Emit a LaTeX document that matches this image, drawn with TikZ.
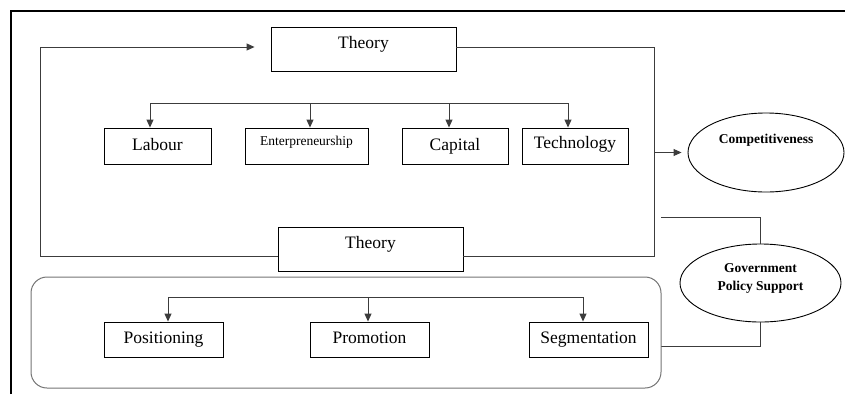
\documentclass[tikz,border=0pt]{standalone}
\usepackage{fontspec}
\setmainfont{Liberation Serif}
\usetikzlibrary{arrows.meta,positioning,shapes.geometric}
\definecolor{linegray}{RGB}{60,60,60}
\definecolor{roundgray}{RGB}{115,115,115}

\begin{document}
\begin{tikzpicture}[x=1pt, y=-1pt,
    box/.style={draw, line width=0.9pt, inner sep=0pt, text height=12pt, text depth=4pt,
      font=\fontsize{17.5}{21}\selectfont},
    smallbox/.style={box, font=\fontsize{13.5}{16}\selectfont, text height=9pt, text depth=11pt},
    theorybox/.style={box, minimum width=185pt, minimum height=44pt, text depth=14pt},
    oval/.style={ellipse, draw, line width=0.9pt, inner sep=0pt, align=center,
      font=\bfseries\fontsize{13.5}{18}\selectfont},
    link/.style={line width=0.9pt, linegray},
    arr/.style={-{Triangle[length=8pt,width=7pt]}}]
  \useasboundingbox (0,0) rectangle (845,394);
  % figure frame
  \draw[line width=2.5pt] (11,394) -- (11,11) -- (845,11);
  % theory loop
  \node[theorybox] (theoryTop) at (363.5,49) {Theory};
  \node[theorybox] (theoryBot) at (370.5,249) {Theory};
  \coordinate (loopTL) at (40,47);
  \coordinate (loopBL) at (40,256);
  \coordinate (loopTR) at (654,47);
  \coordinate (loopBR) at (654,256);
  \draw[link, arr, shorten >=16pt] (theoryBot.west |- loopBL) -- (loopBL) -- (loopTL) -- (loopTL -| theoryTop.west);
  \draw[link] (theoryTop.east |- loopTR) -- (loopTR) -- (loopBR) -- (theoryBot.east |- loopBR);
  % factors
  \node[box, minimum width=107pt, minimum height=36pt] (labour) at (157.5,146) {Labour};
  \node[smallbox, minimum width=123pt, minimum height=36pt] (entre) at (306.5,146) {Enterpreneurship};
  \node[box, minimum width=106pt, minimum height=36pt] (capital) at (455,146) {Capital};
  \node[box, minimum width=106pt, minimum height=36pt, text depth=7pt] (tech) at (575,146) {Technology};
  \coordinate (busA) at (150,103);
  \coordinate (busB) at (310,103);
  \coordinate (busC) at (449,103);
  \coordinate (busD) at (568,103);
  \draw[link] (busA) -- (busD);
  \foreach \b/\n in {busA/labour, busB/entre, busC/capital, busD/tech}
    \draw[link, arr] (\b) -- (\b |- \n.north);
  % outcome
  \node[oval, minimum width=156pt, minimum height=79pt, text height=9pt, text depth=28pt] (comp) at (766,152.5) {Competitiveness};
  \draw[link, arr, shorten >=6pt] (loopTR |- comp.west) -- (comp.west);
  % government support
  \node[oval, minimum width=161pt, minimum height=78pt, text depth=11pt] (gov) at (760.5,283) {Government\\Policy Support};
  \coordinate (govIn) at (661,217);
  \coordinate (govOut) at (661,346);
  \draw[link] (govIn) -| (gov.north);
  \draw[link] (gov.south) |- (govOut);
  % marketing group
  \node[draw=roundgray, line width=1pt, rounded corners=16pt, minimum width=630pt, minimum height=111pt, inner sep=0pt] (mkt) at (346,332.5) {};
  \node[box, minimum width=119pt, minimum height=35pt] (posit) at (163.5,339.5) {Positioning};
  \node[box, minimum width=119pt, minimum height=35pt] (promo) at (369.5,339.5) {Promotion};
  \node[box, minimum width=119pt, minimum height=35pt] (segm) at (588.5,339.5) {Segmentation};
  \coordinate (mbusA) at (168,297);
  \coordinate (mbusB) at (368,297);
  \coordinate (mbusC) at (583,297);
  \draw[link] (mbusA) -- (mbusC);
  \foreach \b/\n in {mbusA/posit, mbusB/promo, mbusC/segm}
    \draw[link, arr] (\b) -- (\b |- \n.north);
\end{tikzpicture}
\end{document}
